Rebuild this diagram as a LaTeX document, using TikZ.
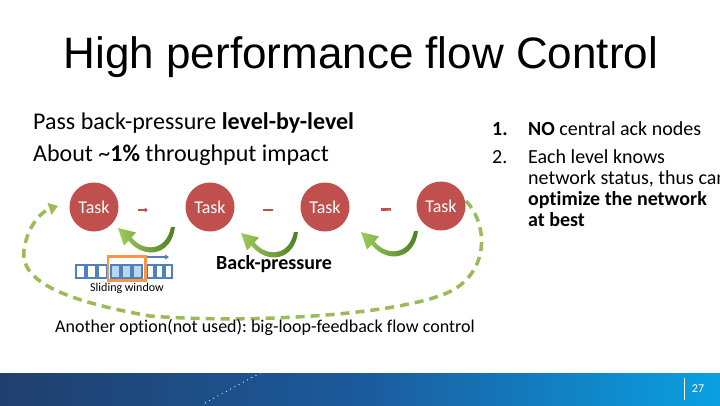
\documentclass[tikz,border=0pt]{standalone}
\usepackage{fontspec}
\setmainfont{Carlito}[Ligatures=NoCommon]
\newfontfamily\titlefont{Liberation Sans}
\usetikzlibrary{arrows.meta}
\frenchspacing
\definecolor{taskred}{HTML}{C0504D}
\definecolor{loopgreen}{HTML}{9BBB59}
\definecolor{arclight}{HTML}{9CCB5A}
\definecolor{arcdark}{HTML}{4E7F24}
\definecolor{winblue}{HTML}{4F81BD}
\definecolor{winfill}{HTML}{B9D8EE}
\definecolor{winorange}{HTML}{F79646}
\definecolor{barleft}{HTML}{213F6D}
\definecolor{barmid}{HTML}{1B5A9C}
\definecolor{barright}{HTML}{0AA0E2}
\begin{document}
\begin{tikzpicture}[x=1pt,y=-1pt,
  txt/.style={anchor=base west, inner sep=0pt, font=\fontsize{20}{24}\selectfont},
  bigtxt/.style={anchor=base west, inner sep=0pt, font=\fontsize{24}{28}\selectfont},
  task/.style={circle, fill=taskred, minimum size=49pt, inner sep=0pt, text=white, font=\fontsize{18}{20}\selectfont},
  cell/.style={draw=winblue, line width=2.2pt, minimum width=8.8pt, minimum height=12.8pt, inner sep=0pt},
  flowarrow/.style={taskred, line width=2.6pt},
  loopline/.style={loopgreen, line width=3.5pt, dash pattern=on 9pt off 6pt, -{Triangle[length=9pt,width=12pt]}},
  bparc/.pic={\shade[left color=arclight, right color=arcdark]
     (-1,0) .. controls (-6,25) and (-29,25) .. (-40.5,10.4) -- (-36,5.5) -- (-54,1) -- (-48,18.5) -- (-43.5,13.6)
     .. controls (-29,32) and (-1,30) .. (3,0) -- cycle;}
]
\clip (0,0) rectangle (720,405);
\fill[white] (0,0) rectangle (720,405);

% footer bar
\shade[left color=barleft, right color=barright, middle color=barmid] (0,373) rectangle (720,405);
\draw[white, line width=0.9pt, dash pattern=on 0.8pt off 4pt] (205,403) -- (262,372);
\draw[white, line width=0.8pt] (684,378) -- (684,400);
\node[text=white, inner sep=0pt, font=\fontsize{12}{14}\selectfont] (pg) at (698,389) {27};

% title
\node[anchor=base, inner sep=0pt, font=\titlefont\fontsize{44}{50}\selectfont] (title) at (361,68) {High performance flow Control};

% left text
\node[bigtxt] (l1) at (33,129) {Pass back-pressure \textbf{level-by-level}};
\node[bigtxt] (l2) at (33,161) {About \textasciitilde\textbf{1\%} throughput impact};

% right list
\node[txt] (n1) at (492,135) {\textbf{1.}};
\node[txt] (r1) at (528,135) {\textbf{NO} central ack nodes};
\node[txt] (n2) at (492,163) {2.};
\node[txt] (r2) at (528,163) {Each level knows};
\node[txt] (r3) at (528,184) {network status, thus can};
\node[txt] (r4) at (528,205) {\textbf{optimize the network}};
\node[txt] (r5) at (528,226) {\textbf{at best}};

% big loop
\draw[loopline] (466,201) .. controls (485,220) and (492,265) .. (455,289)
   .. controls (410,315) and (250,324) .. (150,316)
   .. controls (60,300) and (20,280) .. (24,250)
   .. controls (27,228) and (40,212) .. (58,206);

% tasks
\node[task] (t1) at (94,207) {Task};
\node[task] (t2) at (210,207) {Task};
\node[task] (t3) at (325,207) {Task};
\node[task] (t4) at (441,206) {Task};

% flow arrows
\draw[flowarrow, -{Triangle[length=3pt,width=5pt]}, shorten <=19.5pt, shorten >=37.5pt] ([yshift=-3pt]t1.east) -- ([yshift=-3pt]t2.west);
\draw[flowarrow, shorten <=28.5pt, shorten >=27.5pt] ([yshift=-3pt]t2.east) -- ([yshift=-3pt]t3.west);
\draw[flowarrow, shorten <=31.5pt, shorten >=25.5pt] ([yshift=-3pt]t3.east) -- ([yshift=-3pt]t4.west);

% back-pressure arcs
\pic at (172,227) {bparc};
\pic at (295,232) {bparc};
\pic at (415,231) {bparc};
\node[anchor=base west, inner sep=0pt, font=\bfseries\fontsize{20}{24}\selectfont] (bp) at (216,269) {Back-pressure};

% sliding window
\foreach \x [count=\i] in {80.5,91.5,102.5} \node[cell] (c\i) at (\x,271.5) {};
\foreach \x [count=\i from 4] in {150.5,159.5,168.5} \node[cell, minimum width=6.8pt] (c\i) at (\x,271.5) {};
\foreach \x [count=\i from 7] in {115.5,126.5,137.5} \node[cell, fill=winfill] (c\i) at (\x,271.5) {};
\node[draw=winorange, line width=2.5pt, minimum width=37.5pt, minimum height=24.3pt, inner sep=0pt] (win) at (126.7,268.4) {};
\coordinate (wend) at (169,257);
\draw[winblue, line width=1.4pt, -{Triangle[length=4pt,width=5pt]}] (win.north east |- wend) -- (wend);
\node[anchor=base west, inner sep=0pt, font=\fontsize{12}{14}\selectfont] (sw) at (90,291) {Sliding window};

% bottom caption
\node[anchor=base west, inner sep=0pt, font=\fontsize{18}{22}\selectfont] (cap) at (55,332) {Another option(not used): big-loop-feedback flow control};
\end{tikzpicture}
\end{document}
